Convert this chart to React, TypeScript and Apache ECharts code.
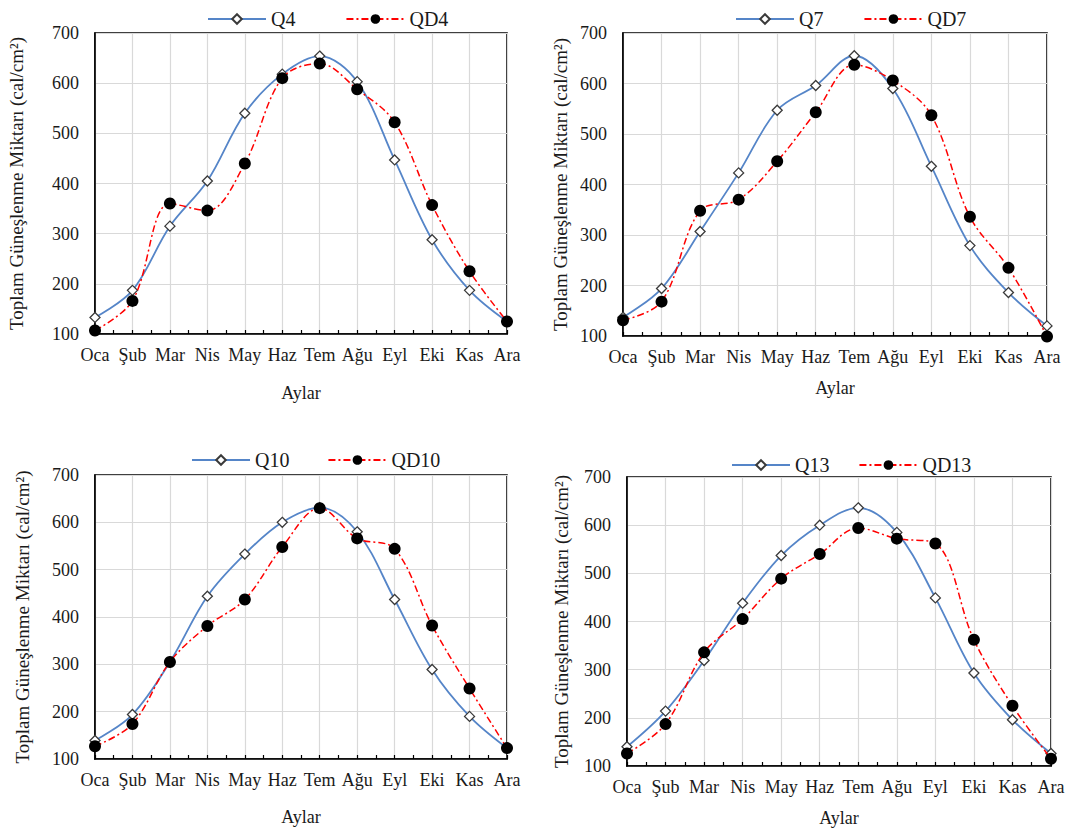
import React, { useEffect, useRef } from "react";
import * as echarts from "echarts";

const months = ["Oca", "Şub", "Mar", "Nis", "May", "Haz", "Tem", "Ağu", "Eyl", "Eki", "Kas", "Ara"];
const yTicks = [100, 200, 300, 400, 500, 600, 700];

const q4 = [133, 187, 315, 405, 540, 618, 654, 603, 447, 288, 187, 125];
const qd4 = [107, 166, 360, 346, 440, 610, 639, 588, 522, 357, 225, 125];
const q7 = [137, 194, 307, 423, 547, 596, 655, 590, 436, 279, 186, 120];
const qd7 = [131, 168, 348, 370, 446, 543, 637, 606, 537, 336, 235, 99];
const q10 = [139, 194, 305, 444, 533, 600, 631, 580, 437, 289, 190, 123];
const qd10 = [127, 174, 305, 381, 437, 548, 630, 566, 544, 382, 249, 123];
const q13 = [140, 214, 319, 438, 537, 600, 636, 585, 449, 293, 196, 126];
const qd13 = [126, 187, 336, 405, 489, 540, 594, 572, 562, 362, 225, 115];

const panelNames = [
  ["Q4", "QD4"],
  ["Q7", "QD7"],
  ["Q10", "QD10"],
  ["Q13", "QD13"],
];
const panelValues = [
  [q4, qd4],
  [q7, qd7],
  [q10, qd10],
  [q13, qd13],
];

const FONT = '"Liberation Serif", "Times New Roman", serif';
const TXT = "#1a1a1a";

const grids = [
  { left: 95, top: 33, width: 412, height: 301 },
  { left: 623, top: 33, width: 424, height: 303 },
  { left: 95, top: 475, width: 412, height: 284 },
  { left: 627, top: 477, width: 424, height: 289 },
];
const legendPos = [
  { left: 202, top: 4, gap: 50 },
  { left: 730, top: 4, gap: 40 },
  { left: 186, top: 445, gap: 38 },
  { left: 726, top: 450, gap: 29 },
];
const yNameGap = [69, 53, 63, 56];
const xNameGap = [50, 43, 49, 43];

function buildOption() {
  const grid: any[] = [];
  const xAxis: any[] = [];
  const yAxis: any[] = [];
  const series: any[] = [];
  const legend: any[] = [];
  for (let i = 0; i < 4; i++) {
    const g = grids[i];
    grid.push({
      left: g.left,
      top: g.top,
      width: g.width,
      height: g.height,
      show: true,
      borderColor: "#000",
      borderWidth: 1.6,
      backgroundColor: "#fff",
    });
    xAxis.push({
      type: "value",
      gridIndex: i,
      min: 0,
      max: 11,
      interval: 1,
      name: "Aylar",
      nameLocation: "middle",
      nameGap: xNameGap[i],
      nameTextStyle: { fontFamily: FONT, fontSize: 18, color: TXT },
      axisLine: { show: true, lineStyle: { color: "#000", width: 1.6 } },
      axisTick: { show: true, inside: true, length: 4, lineStyle: { color: "#000", width: 1.2 } },
      minorTick: { show: true, splitNumber: 2, length: 4, lineStyle: { color: "#000", width: 1.2 } },
      splitLine: { show: true, lineStyle: { color: "#d9d9d9", width: 1.2 } },
      axisLabel: {
        margin: 12,
        fontFamily: FONT,
        fontSize: 18,
        color: TXT,
        formatter: (v: number) => months[Math.round(v)] ?? "",
      },
    });
    yAxis.push({
      type: "value",
      gridIndex: i,
      min: yTicks[0],
      max: yTicks[yTicks.length - 1],
      interval: 100,
      name: "Toplam Güneşlenme Miktarı (cal/cm²)",
      nameLocation: "middle",
      nameGap: yNameGap[i],
      nameTextStyle: { fontFamily: FONT, fontSize: 19, color: TXT },
      axisLine: { show: true, lineStyle: { color: "#000", width: 1.6 } },
      axisTick: { show: false },
      splitLine: { show: true, lineStyle: { color: "#d9d9d9", width: 1.2 } },
      axisLabel: { margin: 16, fontFamily: FONT, fontSize: 18, color: TXT },
    });
    const [nQ, nD] = panelNames[i];
    const [vQ, vD] = panelValues[i];
    series.push({
      type: "line",
      name: nQ,
      xAxisIndex: i,
      yAxisIndex: i,
      data: vQ.map((v, k) => [k, v]),
      smooth: 0.35,
      clip: false,
      symbol: "diamond",
      symbolSize: 10,
      showSymbol: true,
      lineStyle: { color: "#5585C8", width: 1.8 },
      itemStyle: { color: "#ffffff", borderColor: "#3a3a3a", borderWidth: 1.3 },
      z: 2,
    });
    series.push({
      type: "line",
      name: nD,
      xAxisIndex: i,
      yAxisIndex: i,
      data: vD.map((v, k) => [k, v]),
      smooth: 0.35,
      clip: false,
      symbol: "circle",
      symbolSize: 12,
      showSymbol: true,
      lineStyle: { color: "#ff0000", width: 1.5, type: [7, 3, 2, 3] },
      itemStyle: { color: "#000000", borderWidth: 0 },
      z: 3,
    });
    legend.push({
      data: [nQ, nD],
      left: legendPos[i].left,
      top: legendPos[i].top,
      itemGap: legendPos[i].gap,
      itemWidth: 58,
      itemHeight: 12,
      textStyle: { fontFamily: FONT, fontSize: 20, color: TXT },
      selectedMode: false,
    });
  }
  return {
    animation: false,
    backgroundColor: "#ffffff",
    textStyle: { fontFamily: FONT },
    grid,
    xAxis,
    yAxis,
    series,
    legend,
  };
}

export default function App() {
  const ref = useRef<HTMLDivElement | null>(null);
  useEffect(() => {
    if (!ref.current) return;
    const chart = echarts.init(ref.current, undefined, { renderer: "svg" });
    chart.setOption(buildOption() as any);
    return () => chart.dispose();
  }, []);
  return (
    <div
      ref={ref}
      style={{ position: "absolute", left: 0, top: 0, width: 1070, height: 834, background: "#fff" }}
    />
  );
}
